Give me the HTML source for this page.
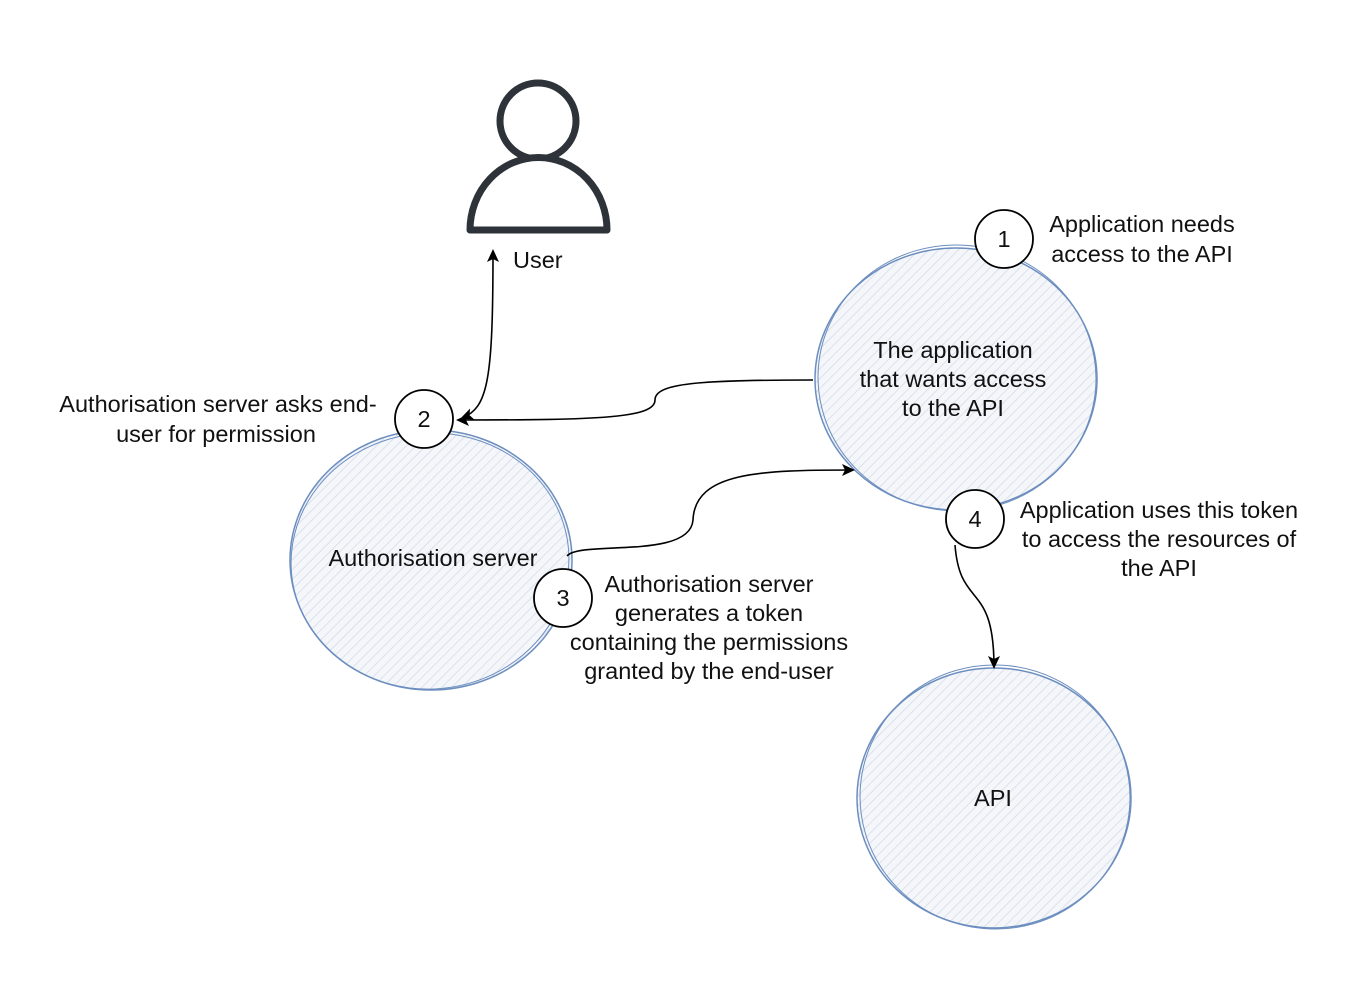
<!DOCTYPE html>
<html><head><style>
html,body{margin:0;padding:0;background:#fff;}
svg{display:block;}
text{font-family:"Liberation Sans",sans-serif;font-size:23.5px;fill:#111;}
</style></head><body>
<svg width="1362" height="986" viewBox="0 0 1362 986">
<defs>
<pattern id="h" patternUnits="userSpaceOnUse" width="7" height="7" patternTransform="rotate(45)">
<rect width="7" height="7" fill="#f4f6fa"/>
<line x1="0" y1="0" x2="0" y2="7" stroke="#d3dbe9" stroke-width="1.5"/>
</pattern>
<marker id="a" markerWidth="14" markerHeight="14" refX="11" refY="6" orient="auto" markerUnits="userSpaceOnUse">
<path d="M0,0 L13,6 L0,12 L3,6 Z" fill="#000"/>
</marker>
<marker id="as" markerWidth="14" markerHeight="14" refX="2" refY="6" orient="auto" markerUnits="userSpaceOnUse">
<path d="M13,0 L0,6 L13,12 L10,6 Z" fill="#000"/>
</marker>
</defs>
<circle cx="538" cy="121" r="38" fill="#fff" stroke="#2d3339" stroke-width="7"/>
<path d="M470 230 A68 72 0 0 1 607 230 Z" fill="#fff" stroke="#2d3339" stroke-width="7" stroke-linejoin="round"/>
<text x="513" y="268">User</text>
<g stroke="#6c8ebf" stroke-width="1.5" fill="url(#h)">
<ellipse cx="956" cy="379" rx="141" ry="131"/>
<ellipse cx="431" cy="560" rx="141" ry="130"/>
<ellipse cx="994" cy="798" rx="137" ry="130"/>
</g>
<g fill="none" stroke="#6c8ebf" stroke-width="1">
<ellipse cx="957" cy="378" rx="139" ry="133" transform="rotate(4 957 378)"/>
<ellipse cx="430" cy="561" rx="139" ry="128" transform="rotate(-5 430 561)"/>
<ellipse cx="995" cy="797" rx="135" ry="132" transform="rotate(5 995 797)"/>
</g>
<text x="953" y="358" text-anchor="middle">The application</text>
<text x="953" y="387" text-anchor="middle">that wants access</text>
<text x="953" y="416" text-anchor="middle">to the API</text>
<text x="433" y="566" text-anchor="middle">Authorisation server</text>
<text x="993" y="806" text-anchor="middle">API</text>
<g fill="none" stroke="#000" stroke-width="1.6">
<path d="M813 380 C700 380 655 383 655 400 C655 418 600 420 458 420" marker-end="url(#a)"/>
<path d="M462 418 C488 408 493 380 493 251" marker-start="url(#as)" marker-end="url(#a)"/>
<path d="M567 556 C580 540 690 560 693 520 C695 472 760 470 853 470" marker-end="url(#a)"/>
<path d="M955 545 C960 610 994 580 994 667" marker-end="url(#a)"/>
</g>
<g fill="#fff" stroke="#000" stroke-width="1.8">
<circle cx="1004" cy="239" r="29"/>
<circle cx="424" cy="419" r="29"/>
<circle cx="563" cy="598" r="29"/>
<circle cx="975" cy="519" r="29"/>
</g>
<g text-anchor="middle">
<text x="1004" y="247">1</text>
<text x="424" y="427">2</text>
<text x="563" y="606">3</text>
<text x="975" y="527">4</text>
</g>
<text x="1142" y="232" text-anchor="middle">Application needs</text>
<text x="1142" y="262" text-anchor="middle">access to the API</text>
<text x="218" y="412" text-anchor="middle">Authorisation server asks end-</text>
<text x="216" y="442" text-anchor="middle">user for permission</text>
<text x="709" y="592" text-anchor="middle">Authorisation server</text>
<text x="709" y="621" text-anchor="middle">generates a token</text>
<text x="709" y="650" text-anchor="middle">containing the permissions</text>
<text x="709" y="679" text-anchor="middle">granted by the end-user</text>
<text x="1159" y="518" text-anchor="middle">Application uses this token</text>
<text x="1159" y="547" text-anchor="middle">to access the resources of</text>
<text x="1159" y="576" text-anchor="middle">the API</text>
</svg>
</body></html>
